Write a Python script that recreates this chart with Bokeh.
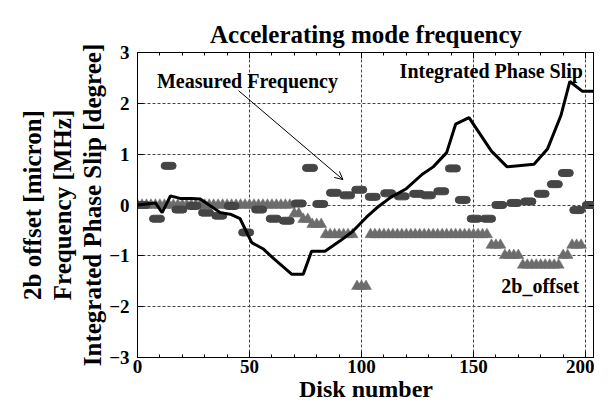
from bokeh.plotting import figure
from bokeh.models import (Range1d, SingleIntervalTicker, FixedTicker, LinearAxis, Title,
                          Label, Arrow, OpenHead, CustomJSTickFormatter)
from bokeh.embed import file_html
from bokeh.resources import INLINE

# ---------------- data ----------------
phase_x = [0, 8, 11, 14.7, 19, 24, 28, 37, 41.4, 45.8, 51, 56, 60.7, 68.8, 74, 77.7, 83.7,
           90.3, 96, 102.2, 106.7, 113, 120, 127, 132, 138, 142, 148, 158, 165, 177, 183,
           189, 193, 198.5, 205]
phase_y = [0, 0.04, -0.15, 0.18, 0.13, 0.13, 0.12, -0.15, -0.18, -0.27, -0.74, -0.86, -1.05,
           -1.36, -1.36, -0.91, -0.91, -0.71, -0.52, -0.24, -0.06, 0.15, 0.32, 0.6, 0.75,
           1.03, 1.59, 1.72, 1.06, 0.75, 0.8, 1.1, 1.76, 2.43, 2.24, 2.24]

freq_x = [2.4, 8.7, 13.9, 18.7, 25, 30.6, 36.5, 42, 48.5, 54.3, 60.8, 66.6, 72, 77, 81.6,
          87.7, 93.6, 99, 105, 111.9, 118, 124.8, 129.7, 135.6, 140.8, 145.2, 150.5, 156.5,
          161.5, 168.2, 174.5, 180.4, 186.3, 191.2, 196.3, 201.9]
freq_y = [0.0, -0.27, 0.77, -0.09, -0.02, -0.15, -0.21, -0.02, -0.54, -0.09, -0.27, -0.31,
          0.03, 0.73, 0.02, 0.24, 0.19, 0.3, 0.16, 0.23, 0.17, 0.22, 0.19, 0.27, 0.72, 0.1,
          -0.27, -0.27, 0.0, 0.04, 0.07, 0.22, 0.41, 0.63, -0.1, 0.0]

offset_x = [0, 2, 4, 6, 8, 10, 12, 14, 16, 18, 20, 22, 24, 26, 28, 30, 32, 34, 36, 38, 40,
            42, 44, 46, 48, 50, 52, 54, 56, 58, 60, 62, 64, 66, 68,
            70, 72, 74, 76, 78, 80, 82,
            84, 86, 88, 90, 92, 94, 96,
            98, 100, 102,
            104, 106, 108, 110, 112, 114, 116, 118, 120, 122, 124, 126, 128, 130, 132, 134,
            136, 138, 140, 142, 144, 146, 148, 150, 152, 154, 156,
            158, 160, 162, 164, 166, 168, 170,
            172, 174, 176, 178, 180, 182, 184, 186, 188,
            190, 192, 194, 196, 198]
offset_y = [0, 0, 0, 0, 0, 0, 0, 0, 0, 0, 0, 0, 0, 0, 0, 0, 0, 0, 0, 0, 0,
            0, 0, 0, 0, 0, 0, 0, 0, 0, 0, 0, 0, 0, 0,
            -0.17, -0.17, -0.28, -0.28, -0.38, -0.38, -0.38,
            -0.58, -0.58, -0.58, -0.58, -0.58, -0.58, -0.58,
            -1.6, -1.6, -1.6,
            -0.58, -0.58, -0.58, -0.58, -0.58, -0.58, -0.58, -0.58, -0.58, -0.58, -0.58,
            -0.58, -0.58, -0.58, -0.58, -0.58,
            -0.58, -0.58, -0.58, -0.58, -0.58, -0.58, -0.58, -0.58, -0.58, -0.58, -0.58,
            -0.79, -0.79, -0.79, -0.99, -0.99, -0.99, -0.99,
            -1.18, -1.18, -1.18, -1.18, -1.18, -1.18, -1.18, -1.18, -1.18,
            -0.99, -0.99, -0.79, -0.79, -0.79]

y_ticks = [-3, -2, -1, 0, 1, 2, 3]

FONT = "Liberation Serif"

p = figure(width=594, height=404, output_backend="svg", toolbar_location=None,
           x_range=Range1d(0, 204), y_range=Range1d(-3, 3),
           min_border_left=137, min_border_right=0, min_border_top=52, min_border_bottom=0)

p.title.text = "Accelerating mode frequency"
p.title.text_font = FONT
p.title.text_font_size = "25px"
p.title.text_font_style = "bold"
p.title.text_color = "black"
p.title.align = "center"

p.outline_line_color = "black"
p.outline_line_width = 1

xt = SingleIntervalTicker(interval=50, num_minor_ticks=5)
yt = FixedTicker(ticks=y_ticks)

p.xaxis[0].ticker = xt
p.yaxis[0].ticker = yt

def style_axis(ax, labels=True):
    ax.axis_line_color = "black"
    ax.major_tick_in = 6
    ax.major_tick_out = 0
    ax.minor_tick_in = 3
    ax.minor_tick_out = 0
    ax.major_tick_line_color = "black"
    ax.minor_tick_line_color = "black"
    if labels:
        ax.major_label_text_font = FONT
        ax.major_label_text_font_style = "bold"
        ax.major_label_text_font_size = "19px"
        ax.major_label_text_color = "black"
    else:
        ax.formatter = CustomJSTickFormatter(code="return ''")
        ax.major_label_standoff = 0

style_axis(p.xaxis[0])
style_axis(p.yaxis[0])
p.xaxis[0].major_label_standoff = 2
p.yaxis[0].major_label_standoff = 8
p.yaxis[0].minor_tick_line_color = None
p.xaxis[0].axis_label = "Disk number"
p.xaxis[0].axis_label_text_font = FONT
p.xaxis[0].axis_label_text_font_size = "24px"
p.xaxis[0].axis_label_text_font_style = "bold"
p.xaxis[0].axis_label_text_color = "black"
p.xaxis[0].axis_label_standoff = 0

top = LinearAxis(ticker=xt)
style_axis(top, labels=False)
top.major_label_standoff = 16
p.add_layout(top, "above")
right = LinearAxis(ticker=yt)
style_axis(right, labels=False)
right.minor_tick_line_color = None
p.add_layout(right, "right")

for g in (p.xgrid[0], p.ygrid[0]):
    g.grid_line_color = "#444444"
    g.grid_line_dash = "3 2"
    g.grid_line_width = 1
p.xgrid[0].ticker = xt
p.ygrid[0].ticker = yt

# y axis labels (three lines, innermost first)
for txt in ["Integrated Phase Slip [degree]", "Frequency [MHz]", "2b offset [micron]"]:
    t = Title(text=txt, align="center", text_font=FONT, text_font_size="25px",
              text_font_style="bold", text_color="black", standoff=1)
    p.add_layout(t, "left")

# glyphs
p.scatter(offset_x, offset_y, marker="triangle", size=11, fill_color="#6c6c6c",
          line_color="#6c6c6c", line_width=0.5)
p.rect(freq_x, freq_y, width=15, height=7, width_units="screen", height_units="screen",
       fill_color="#454545", line_color="#454545", border_radius=4)
p.line(phase_x, phase_y, line_color="black", line_width=3)

# annotations
lab_kw = dict(text_font=FONT, text_font_style="bold", text_font_size="20px",
              text_color="black", text_baseline="middle")
p.add_layout(Label(x=8.7, y=2.43, text="Measured Frequency", **lab_kw))
p.add_layout(Label(x=117, y=2.64, text="Integrated Phase Slip", **lab_kw))
p.add_layout(Label(x=162.4, y=-1.6, text="2b_offset", **lab_kw))
p.add_layout(Arrow(x_start=45.1, y_start=2.25, x_end=91.7, y_end=0.5, line_width=1,
                   line_color="black",
                   end=OpenHead(size=8, line_width=1, line_color="black")))

open("out.html", "w").write(file_html(p, INLINE))
